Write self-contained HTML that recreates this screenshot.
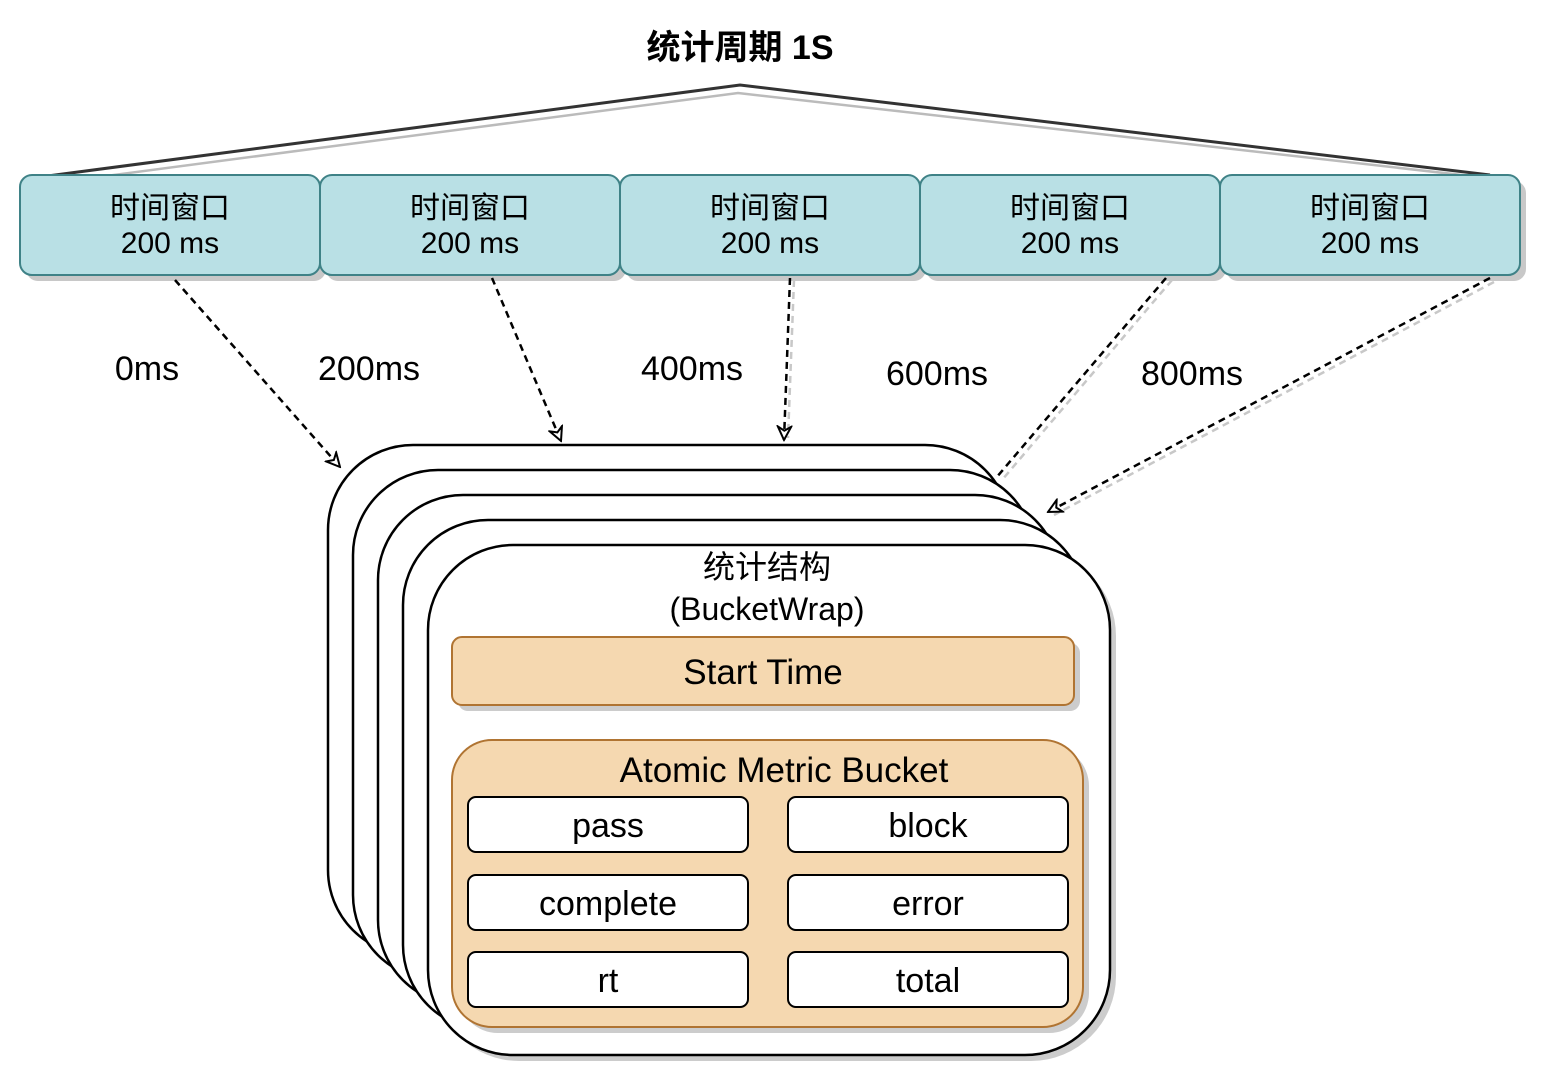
<!DOCTYPE html>
<html><head><meta charset="utf-8"><style>
html,body{margin:0;padding:0;background:#fff;}
svg text{font-family:"Liberation Sans","Noto Sans CJK SC",sans-serif;fill:#000;}
</style></head><body>
<svg width="1558" height="1074" viewBox="0 0 1558 1074" xmlns="http://www.w3.org/2000/svg">
<defs>
<marker id="ah" viewBox="0 0 12 12" refX="11" refY="6" markerWidth="16" markerHeight="16" orient="auto" markerUnits="userSpaceOnUse">
<path d="M1,1 L11,6 L1,11 L4,6 Z" fill="#fff" stroke="#000" stroke-width="1.5"/>
</marker>
</defs>
<text x="740" y="59" font-size="34" font-weight="bold" text-anchor="middle">统计周期 1S</text>
<polyline points="40,177 740,85 1490,175" fill="none" stroke="#333" stroke-width="3"/>
<polyline points="45,184 738,93 1488,178" fill="none" stroke="#bbb" stroke-width="2.5"/>
<g font-size="30" text-anchor="middle">
<g>
<rect x="26" y="181" width="300" height="100" rx="12" fill="#c8c8c8"/>
<rect x="20" y="175" width="300" height="100" rx="12" fill="#b9e0e5" stroke="#3f8287" stroke-width="2"/>
<text x="170" y="218">时间窗口</text><text x="170" y="253">200 ms</text>
</g>
<g>
<rect x="326" y="181" width="300" height="100" rx="12" fill="#c8c8c8"/>
<rect x="320" y="175" width="300" height="100" rx="12" fill="#b9e0e5" stroke="#3f8287" stroke-width="2"/>
<text x="470" y="218">时间窗口</text><text x="470" y="253">200 ms</text>
</g>
<g>
<rect x="626" y="181" width="300" height="100" rx="12" fill="#c8c8c8"/>
<rect x="620" y="175" width="300" height="100" rx="12" fill="#b9e0e5" stroke="#3f8287" stroke-width="2"/>
<text x="770" y="218">时间窗口</text><text x="770" y="253">200 ms</text>
</g>
<g>
<rect x="926" y="181" width="300" height="100" rx="12" fill="#c8c8c8"/>
<rect x="920" y="175" width="300" height="100" rx="12" fill="#b9e0e5" stroke="#3f8287" stroke-width="2"/>
<text x="1070" y="218">时间窗口</text><text x="1070" y="253">200 ms</text>
</g>
<g>
<rect x="1226" y="181" width="300" height="100" rx="12" fill="#c8c8c8"/>
<rect x="1220" y="175" width="300" height="100" rx="12" fill="#b9e0e5" stroke="#3f8287" stroke-width="2"/>
<text x="1370" y="218">时间窗口</text><text x="1370" y="253">200 ms</text>
</g>
</g>
<g font-size="34" text-anchor="middle">
<text x="147" y="380">0ms</text>
<text x="369" y="380">200ms</text>
<text x="692" y="380">400ms</text>
<text x="937" y="385">600ms</text>
<text x="1192" y="385">800ms</text>
</g>
<g stroke="#000" stroke-width="2.5">
<rect x="334" y="451" width="682" height="510" rx="85" fill="#ccc" stroke="none"/>
<rect x="328" y="445" width="682" height="510" rx="85" fill="#fff"/>
<rect x="359" y="476" width="682" height="510" rx="85" fill="#ccc" stroke="none"/>
<rect x="353" y="470" width="682" height="510" rx="85" fill="#fff"/>
<rect x="384" y="501" width="682" height="510" rx="85" fill="#ccc" stroke="none"/>
<rect x="378" y="495" width="682" height="510" rx="85" fill="#fff"/>
<rect x="409" y="526" width="682" height="510" rx="85" fill="#ccc" stroke="none"/>
<rect x="403" y="520" width="682" height="510" rx="85" fill="#fff"/>
<rect x="434" y="551" width="682" height="510" rx="85" fill="#ccc" stroke="none"/>
<rect x="428" y="545" width="682" height="510" rx="85" fill="#fff"/>
</g>
<text x="767" y="578" font-size="32" text-anchor="middle">统计结构</text>
<text x="767" y="620" font-size="32" text-anchor="middle">(BucketWrap)</text>
<rect x="458" y="643" width="622" height="68" rx="10" fill="#ccc"/>
<rect x="452" y="637" width="622" height="68" rx="10" fill="#f5d8b0" stroke="#b07432" stroke-width="2"/>
<text x="763" y="684" font-size="35" text-anchor="middle">Start Time</text>
<rect x="458" y="746" width="631" height="287" rx="40" fill="#ccc"/>
<rect x="452" y="740" width="631" height="287" rx="40" fill="#f5d8b0" stroke="#b07432" stroke-width="2"/>
<text x="784" y="782" font-size="35" text-anchor="middle">Atomic Metric Bucket</text>
<g fill="#fff" stroke="#000" stroke-width="2">
<rect x="468" y="797" width="280" height="55" rx="8"/>
<rect x="788" y="797" width="280" height="55" rx="8"/>
<rect x="468" y="875" width="280" height="55" rx="8"/>
<rect x="788" y="875" width="280" height="55" rx="8"/>
<rect x="468" y="952" width="280" height="55" rx="8"/>
<rect x="788" y="952" width="280" height="55" rx="8"/>
</g>
<g font-size="34" text-anchor="middle">
<text x="608" y="837">pass</text><text x="928" y="837">block</text>
<text x="608" y="915">complete</text><text x="928" y="915">error</text>
<text x="608" y="992">rt</text><text x="928" y="992">total</text>
</g>
<g fill="none" stroke-width="2.5" stroke-dasharray="7,5">
<line x1="1172" y1="280" x2="1002" y2="480" stroke="#c8c8c8"/>
<line x1="1494" y1="282" x2="1054" y2="515" stroke="#c8c8c8"/>
<line x1="794" y1="280" x2="788" y2="438" stroke="#c8c8c8"/>
<line x1="175" y1="280" x2="340" y2="467" stroke="#000" marker-end="url(#ah)"/>
<line x1="492" y1="278" x2="561" y2="441" stroke="#000" marker-end="url(#ah)"/>
<line x1="790" y1="278" x2="784" y2="440" stroke="#000" marker-end="url(#ah)"/>
<line x1="1166" y1="278" x2="996" y2="478" stroke="#000"/>
<line x1="1490" y1="278" x2="1048" y2="512" stroke="#000" marker-end="url(#ah)"/>
</g>
</svg>
</body></html>
